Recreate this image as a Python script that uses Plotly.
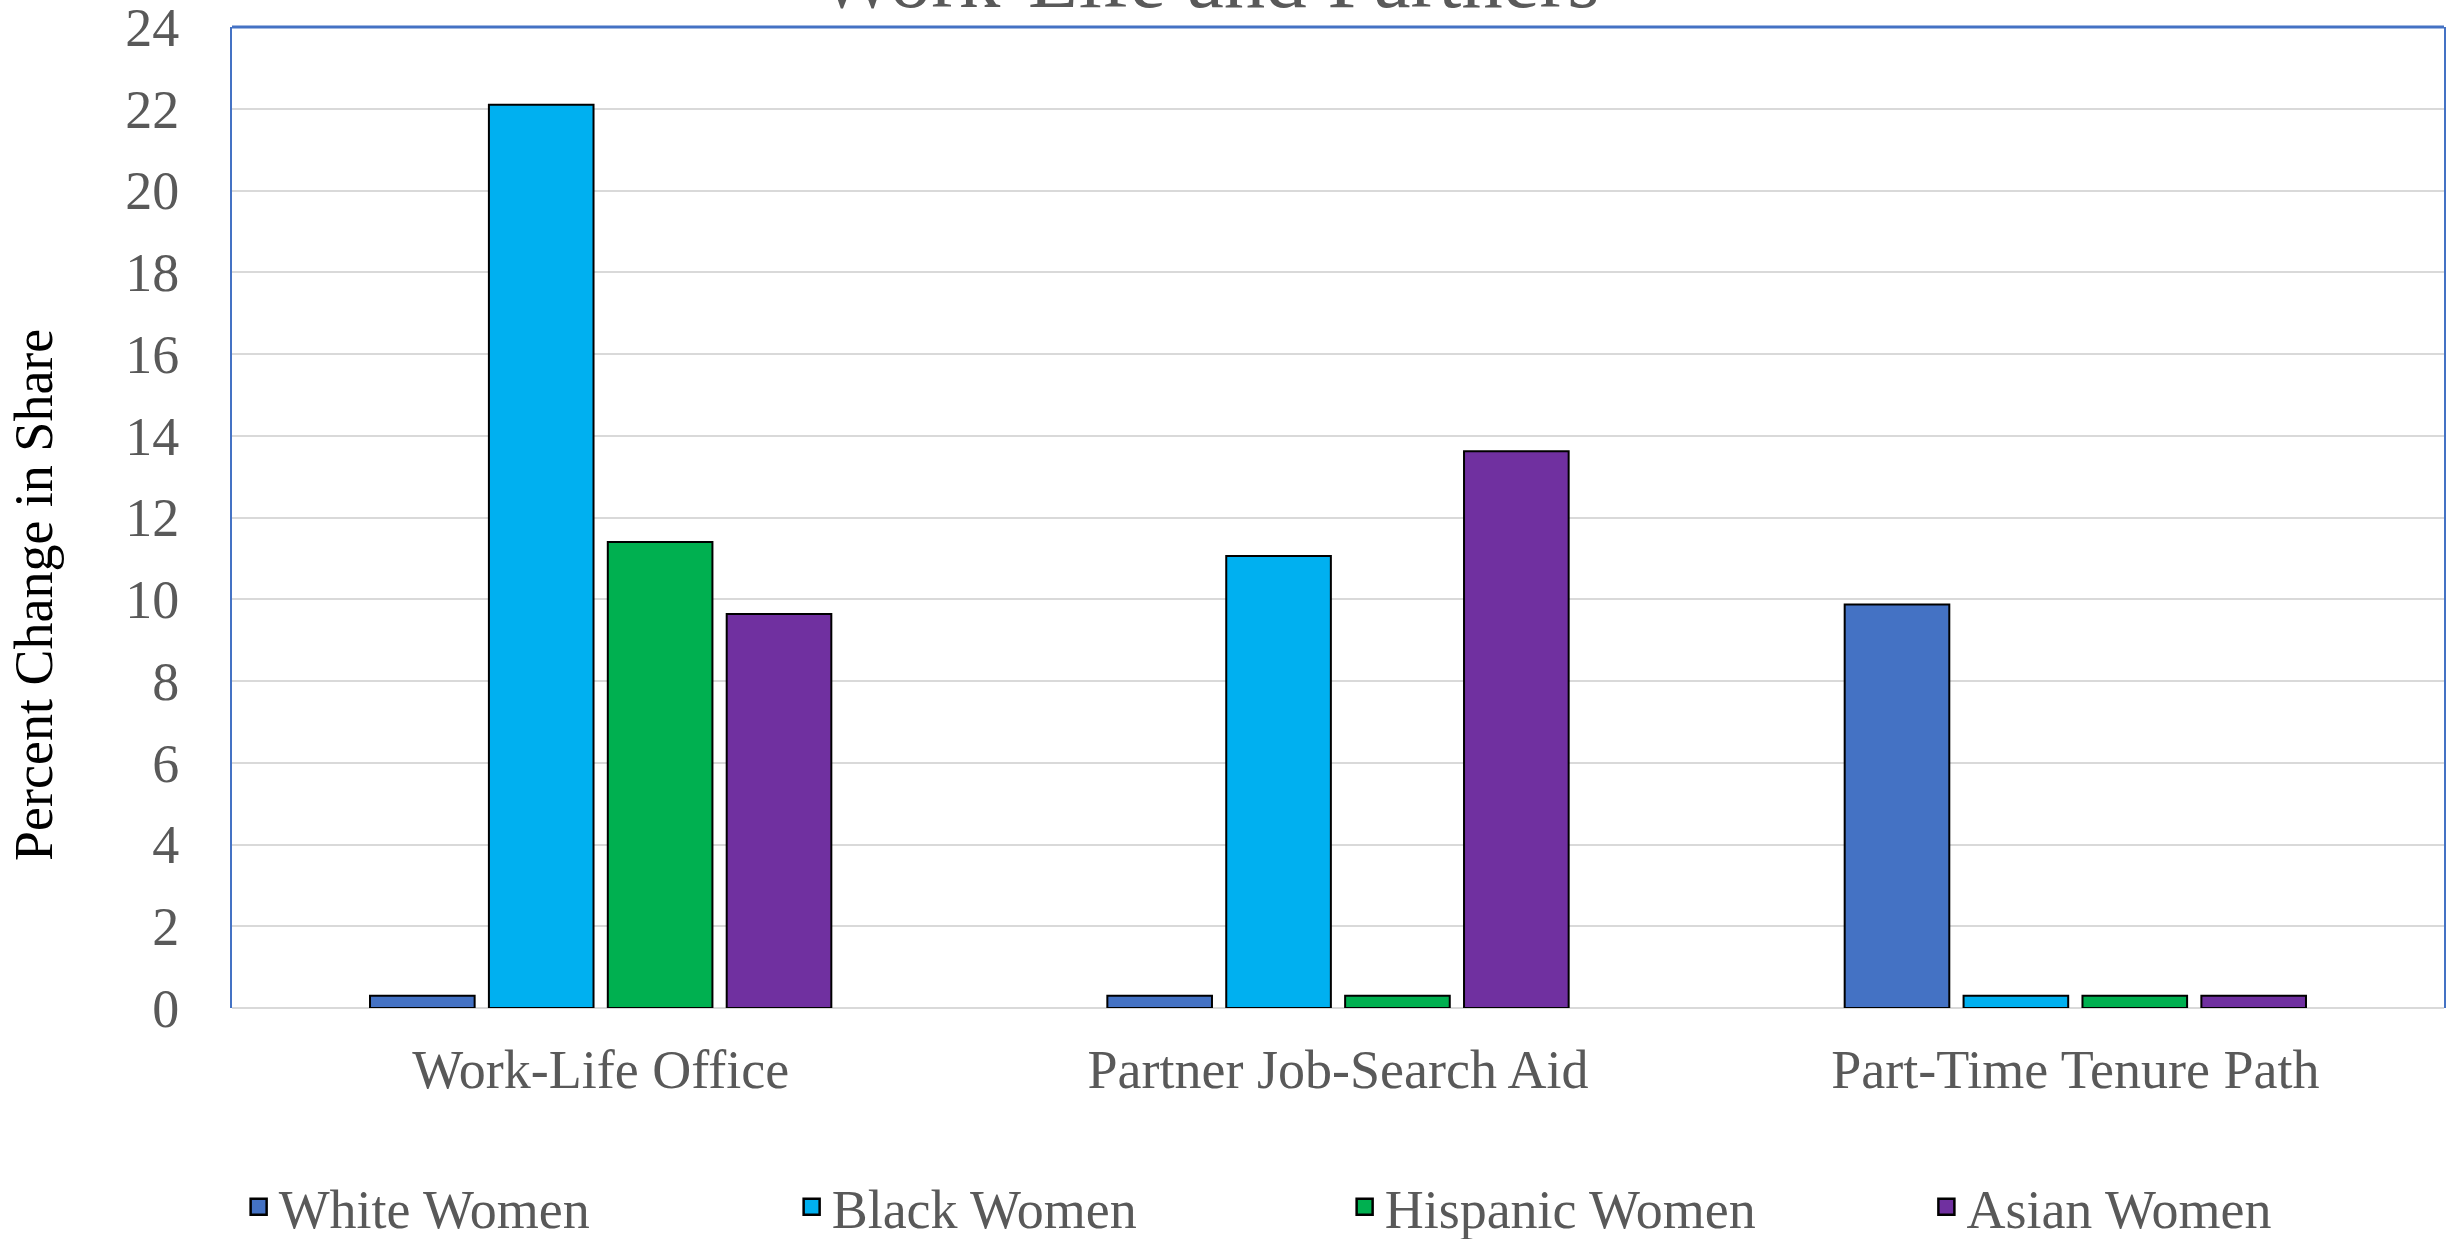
import plotly.graph_objects as go

categories = ["Work-Life Office", "Partner Job-Search Aid", "Part-Time Tenure Path"]
series_names = ["White Women", "Black Women", "Hispanic Women", "Asian Women"]
white_women = [0.3, 0.3, 9.87]
black_women = [22.1, 11.06, 0.3]
hispanic_women = [11.4, 0.3, 0.3]
asian_women = [9.64, 13.62, 0.3]
series_values = [white_women, black_women, hispanic_women, asian_women]
colors = ["#4472C4", "#00B0F0", "#00B050", "#7030A0"]
legend_ids = ["legend", "legend", "legend", "legend2"]
title_text = "Work-Life and Partners"
y_title = "Percent Change in Share"

FONT = "Liberation Serif"
GRAY = "#595959"
FS = 54

fig = go.Figure()
for name, vals, col in zip(series_names, series_values, colors):
    fig.add_trace(go.Bar(
        x=categories, y=vals, name=name, legendgroup=name, showlegend=False,
        marker=dict(color=col, line=dict(color="#000000", width=2)),
    ))
# legend entries with larger square swatches
for name, col, lg in zip(series_names, colors, legend_ids):
    fig.add_trace(go.Scatter(
        x=[categories[0]], y=[None], name=name, legendgroup=name, mode="markers",
        legend=lg,
        marker=dict(symbol="square", size=16, color=col, line=dict(color="#000000", width=2.5)),
        hoverinfo="skip",
    ))

W, H = 2455, 1239
ml, mr, mt, mb = 232, 11, 27, 231

legend_common = dict(
    orientation="h", xanchor="left", y=-0.203, yanchor="middle",
    font=dict(family=FONT, size=FS, color=GRAY),
    bgcolor="rgba(0,0,0,0)", traceorder="normal",
)

fig.update_layout(
    width=W, height=H, autosize=False,
    margin=dict(l=ml, r=mr, t=mt, b=mb, pad=0, autoexpand=False),
    paper_bgcolor="white", plot_bgcolor="white",
    barmode="group", bargap=0.355, bargroupgap=0.12,
    font=dict(family=FONT, size=FS, color=GRAY),
    showlegend=True,
    legend=dict(x=0.003, entrywidth=508, entrywidthmode="pixels", **legend_common),
    legend2=dict(x=0.766, **legend_common),
    xaxis=dict(
        showgrid=False, showline=False, ticks="", automargin=False,
        tickfont=dict(family=FONT, size=FS, color=GRAY),
        ticklabelstandoff=25,
    ),
    yaxis=dict(
        range=[0, 24], tickmode="linear", tick0=0, dtick=2, automargin=False,
        ticklabeloverflow="allow",
        showgrid=True, gridcolor="#D9D9D9", gridwidth=2,
        zeroline=True, zerolinecolor="#D9D9D9", zerolinewidth=2,
        showline=True, linecolor="#4472C4", linewidth=2, mirror=True,
        ticks="", tickfont=dict(family=FONT, size=FS, color=GRAY),
        ticklabelstandoff=40,
    ),
    shapes=[dict(type="line", xref="paper", yref="paper", x0=0, x1=1, y0=1, y1=1,
                 line=dict(color="#4472C4", width=3))],
    annotations=[
        dict(text=title_text, xref="paper", yref="paper", x=0.4417, y=1.0,
             xanchor="center", yanchor="bottom", showarrow=False,
             font=dict(family=FONT, size=83, color=GRAY)),
        dict(text=y_title, xref="paper", yref="paper", x=-0.0895, y=0.421,
             xanchor="center", yanchor="middle", textangle=-90, showarrow=False,
             font=dict(family=FONT, size=FS, color="#000000")),
    ],
)

fig.write_html("out.html", config={"displayModeBar": False},
               post_script="document.body.style.margin='0';")
